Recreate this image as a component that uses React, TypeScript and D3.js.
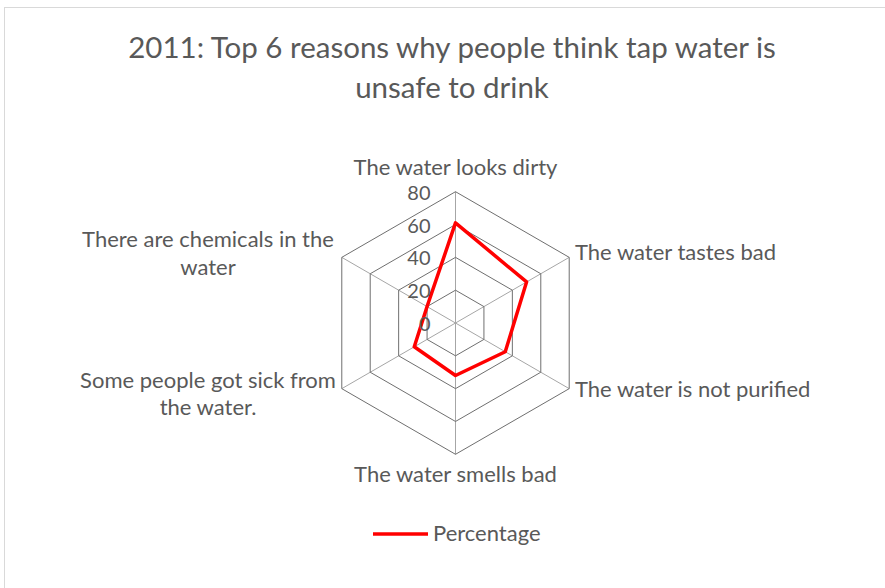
import React from "react";
import * as d3 from "d3";

const categories = [
  "The water looks dirty",
  "The water tastes bad",
  "The water is not purified",
  "The water smells bad",
  "Some people got sick from the water.",
  "There are chemicals in the water",
];
const percentage = [61, 50, 35, 32, 29, 20];
const ticks = [0, 20, 40, 60, 80];
const seriesName = "Percentage";
const titleLines = ["2011: Top 6 reasons why people think tap water is", "unsafe to drink"];

const W = 885;
const H = 588;
const cx = 455.5;
const cy = 323;
const R = 131.3;
const FONT = "Lato, 'Open Sans', sans-serif";
const TXT = "#595959";

export default function App() {
  const r = d3.scaleLinear().domain([0, 80]).range([0, R]);
  const n = categories.length;
  const angle = d3.scalePoint<number>().domain(d3.range(n + 1)).range([0, 2 * Math.PI]);
  const radial = d3
    .lineRadial<number>()
    .angle((_, i) => angle(i) as number)
    .radius((d) => r(d))
    .curve(d3.curveLinearClosed);

  const labelPos: { x: number; y: number[]; anchor: string; lines: string[] }[] = [
    { x: cx, y: [175], anchor: "middle", lines: ["The water looks dirty"] },
    { x: 575, y: [260], anchor: "start", lines: ["The water tastes bad"] },
    { x: 575, y: [397], anchor: "start", lines: ["The water is not purified"] },
    { x: cx, y: [482], anchor: "middle", lines: ["The water smells bad"] },
    { x: 208, y: [388, 415], anchor: "middle", lines: ["Some people got sick from", "the water."] },
    { x: 208, y: [247, 275], anchor: "middle", lines: ["There are chemicals in the", "water"] },
  ];

  return (
    <svg
      width={W}
      height={H}
      style={{ position: "absolute", left: 0, top: 0, background: "#fff" }}
      fontFamily={FONT}
    >
      <rect x={4.5} y={7.5} width={W + 20} height={H + 20} fill="#fff" stroke="#d9d9d9" />
      {titleLines.map((t, i) => (
        <text key={t} x={452} y={58 + i * 40} textAnchor="middle" fontSize={29.5} fill={TXT}>
          {t}
        </text>
      ))}
      <g transform={`translate(${cx},${cy})`}>
        {d3.range(n).map((i) => {
          const a = angle(i) as number;
          return (
            <line
              key={"s" + i}
              x1={0}
              y1={0}
              x2={Math.sin(a) * R}
              y2={-Math.cos(a) * R}
              stroke="#a6a6a6"
              strokeWidth={1}
            />
          );
        })}
        {ticks.slice(1).map((t) => (
          <path
            key={"g" + t}
            d={radial(categories.map(() => t)) as string}
            fill="none"
            stroke="#6f6f6f"
            strokeWidth={1}
          />
        ))}
        <path d={radial(percentage) as string} fill="none" stroke="#ff0000" strokeWidth={3.5} strokeLinejoin="round" />
      </g>
      {ticks.map((t) => (
        <text
          key={"t" + t}
          x={cx - 25}
          y={cy - r(t)}
          dy="0.4em"
          textAnchor="end"
          fontSize={20}
          fill={TXT}
        >
          {t}
        </text>
      ))}
      {labelPos.map((l, i) => (
        <text key={"l" + i} textAnchor={l.anchor} fontSize={22} fill={TXT}>
          {l.lines.map((s, j) => (
            <tspan key={j} x={l.x} y={l.y[j]}>
              {s}
            </tspan>
          ))}
        </text>
      ))}
      <line x1={373} x2={428} y1={534} y2={534} stroke="#ff0000" strokeWidth={3.5} />
      <text x={433} y={541} fontSize={22} fill={TXT}>
        {seriesName}
      </text>
    </svg>
  );
}
